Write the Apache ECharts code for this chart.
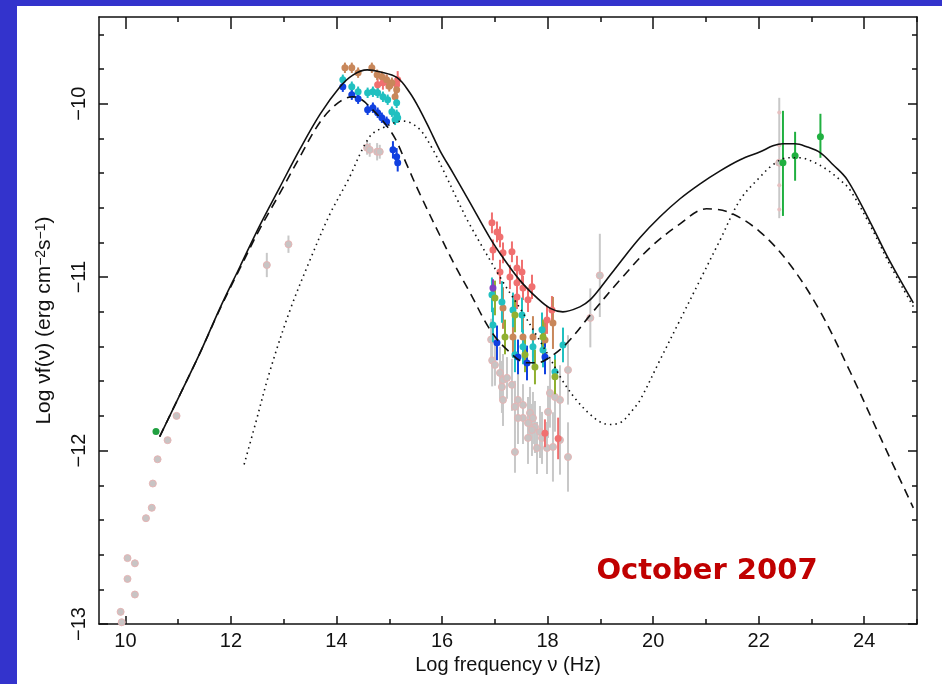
<!DOCTYPE html>
<html><head><meta charset="utf-8">
<script src="https://cdn.jsdelivr.net/npm/echarts@6/dist/echarts.min.js"></script>
<style>html,body{margin:0;padding:0;background:#fff}#c{width:942px;height:684px}</style>
</head><body><div id="c"></div>
<script>
// ---------- axis ticks ----------
const xMajorTicks = [10, 12, 14, 16, 18, 20, 22, 24];
const xMinorTicks = [11, 13, 15, 17, 19, 21, 23, 25];
const yMajorTicks = [-13, -12, -11, -10];
const yMinorTicks = [-12.8, -12.6, -12.4, -12.2, -11.8, -11.6, -11.4, -11.2, -10.8, -10.6, -10.4, -10.2, -9.8, -9.6];

// ---------- model curves [log nu, log nuFnu] ----------
const totalModel = [[10.65,-11.92],[11.03,-11.68],[11.41,-11.44],[11.79,-11.18],[12.17,-10.94],[12.55,-10.70],[12.92,-10.485],[13.30,-10.266],[13.69,-10.06],[14.06,-9.905],[14.31,-9.835],[14.58,-9.805],[14.82,-9.816],[15.15,-9.85],[15.39,-9.937],[15.58,-10.035],[15.77,-10.15],[15.96,-10.27],[16.21,-10.40],[16.53,-10.57],[16.91,-10.775],[17.16,-10.89],[17.48,-11.02],[17.80,-11.12],[18.05,-11.18],[18.29,-11.20],[18.62,-11.17],[18.81,-11.13],[19.00,-11.062],[19.38,-10.912],[19.75,-10.773],[20.13,-10.652],[20.51,-10.548],[20.89,-10.462],[21.27,-10.387],[21.65,-10.323],[22.03,-10.277],[22.27,-10.243],[22.46,-10.231],[22.69,-10.231],[22.91,-10.248],[23.17,-10.283],[23.41,-10.352],[23.68,-10.439],[24.11,-10.681],[24.49,-10.911],[24.93,-11.148]];
const zoneOneModel = [[10.65,-11.92],[11.03,-11.68],[11.41,-11.44],[11.79,-11.185],[12.17,-10.95],[12.55,-10.72],[12.92,-10.52],[13.30,-10.31],[13.69,-10.105],[14.03,-9.995],[14.31,-9.96],[14.48,-9.977],[14.63,-10.018],[14.88,-10.099],[15.11,-10.20],[15.33,-10.35],[15.58,-10.52],[15.96,-10.76],[16.24,-10.93],[16.53,-11.09],[16.91,-11.303],[17.23,-11.418],[17.61,-11.494],[17.80,-11.494],[18.05,-11.46],[18.37,-11.38],[18.81,-11.218],[19.37,-11.017],[19.94,-10.831],[20.51,-10.693],[21.01,-10.606],[21.46,-10.629],[22.03,-10.74],[22.60,-10.93],[23.17,-11.20],[23.74,-11.55],[24.30,-11.92],[24.93,-12.33]];
const zoneTwoModel = [[12.25,-12.08],[12.46,-11.85],[12.74,-11.54],[13.12,-11.19],[13.50,-10.90],[13.87,-10.64],[14.22,-10.44],[14.63,-10.19],[14.92,-10.133],[15.26,-10.10],[15.55,-10.14],[15.80,-10.25],[16.05,-10.40],[16.30,-10.56],[16.53,-10.70],[17.16,-11.03],[17.50,-11.19],[17.80,-11.34],[18.05,-11.47],[18.29,-11.60],[18.55,-11.71],[18.80,-11.79],[19.00,-11.835],[19.18,-11.85],[19.40,-11.835],[19.60,-11.77],[19.75,-11.71],[20.13,-11.478],[20.51,-11.247],[20.89,-11.016],[21.27,-10.785],[21.65,-10.554],[22.03,-10.421],[22.27,-10.352],[22.54,-10.312],[22.79,-10.312],[23.03,-10.335],[23.30,-10.381],[23.54,-10.439],[23.73,-10.497],[24.11,-10.70],[24.49,-10.93],[24.93,-11.17]];

// ---------- data points [x, y, errDown, errUp] ----------
const greyArchive = [[9.91,-12.93,0.02],[9.93,-12.99,0.02],[10.04,-12.62,0],[10.18,-12.65,0.02],[10.04,-12.74,0],[10.18,-12.83,0.02],[10.39,-12.39,0],[10.50,-12.33,0],[10.52,-12.19,0],[10.61,-12.05,0],[10.80,-11.94,0],[10.97,-11.80,0],[12.68,-10.93,0.07],[13.09,-10.81,0.05],
  [14.58,-10.254,0.04],[14.63,-10.266,0.04],[14.77,-10.277,0.05],[14.82,-10.277,0.04],
  [16.93,-11.36,0.12],[16.95,-11.48,0.15],[17.003,-11.506,0.12],[17.098,-11.552,0.15],[17.155,-11.593,0.15],[17.135,-11.633,0.15],[17.231,-11.581,0.12],[17.155,-11.708,0.15],[17.325,-11.621,0.15],[17.439,-11.708,0.15],[17.382,-11.748,0.15],[17.534,-11.737,0.12],[17.534,-11.812,0.15],[17.439,-11.812,0.15],[17.667,-11.783,0.15],[17.723,-11.812,0.15],[17.629,-11.841,0.15],[17.761,-11.864,0.15],[17.705,-11.881,0.15],[17.856,-11.893,0.15],[17.629,-11.927,0.15],[17.382,-12.008,0.12],[17.894,-11.927,0.15],[17.799,-11.985,0.15],[18.008,-11.777,0.15],[18.045,-11.668,0.2],[17.989,-11.985,0.15],[18.235,-11.939,0.2],[18.387,-11.535,0.2],[18.387,-12.037,0.2],[18.235,-11.708,0.2],[18.140,-11.691,0.2],[18.102,-11.979,0.2],
  [18.99,-10.99,0.24],[18.81,-11.235,0.17],
  [22.39,-10.34,0.32,0.374]];
const greyGammaExtra = [[22.39,-10.05,0],[22.39,-10.24,0],[22.39,-10.47,0],[22.39,-10.61,0]];
const radioGreen = [[10.58,-11.89,0]];
const brownPoints = [[14.16,-9.793,0.03],[14.29,-9.793,0.03],[14.41,-9.821,0.03],[14.67,-9.793,0.03],[14.77,-9.833,0.03],[14.86,-9.844,0.03],[14.95,-9.862,0.03],[15.0,-9.90,0.03],[15.05,-9.879,0.03],[15.14,-9.920,0.04],[15.11,-9.960,0.04],
  [17.155,-11.178,0.12],[17.344,-11.345,0.12],[17.534,-11.345,0.12],[17.723,-11.345,0.12],[17.951,-11.362,0.12],[18.102,-11.264,0.15]];
const salmonPoints = [[14.88,-9.879,0.04],[14.95,-9.873,0.04],[15.16,-9.862,0.05],[15.14,-9.891,0.05],[14.78,-9.891,0.04],
  [16.946,-10.687,0.06],[17.041,-10.739,0.06],[17.098,-10.768,0.06],[16.965,-10.843,0.06],[17.155,-10.860,0.06],[17.325,-10.854,0.06],[17.098,-10.970,0.07],[17.287,-10.999,0.07],[17.420,-10.947,0.07],[17.515,-10.970,0.07],[17.420,-11.033,0.07],[17.534,-11.062,0.07],[17.705,-11.056,0.07],[17.420,-11.114,0.07],[17.629,-11.131,0.07],[17.989,-11.247,0.08],[18.083,-11.189,0.08],
  [17.95,-11.90,0.08],[18.20,-11.93,0.12]];
const cyanPoints = [[14.12,-9.862,0.03],[14.29,-9.902,0.03],[14.41,-9.931,0.03],[14.59,-9.937,0.03],[14.69,-9.931,0.03],[14.78,-9.937,0.03],[14.88,-9.960,0.03],[14.97,-9.977,0.03],[15.14,-9.995,0.03],[15.05,-10.046,0.03],[15.14,-10.064,0.03],[15.16,-10.081,0.03],[15.11,-10.093,0.03],
  [16.946,-11.102,0.1],[16.965,-11.276,0.1],[17.135,-11.143,0.12],[17.344,-11.189,0.1],[17.382,-11.448,0.1],[17.515,-11.218,0.1],[17.534,-11.402,0.1],[17.723,-11.402,0.1],[17.894,-11.304,0.1],[17.913,-11.420,0.1],[18.140,-11.546,0.1],[18.292,-11.391,0.1]];
const olivePoints = [[17.003,-11.120,0.1],[17.193,-11.345,0.1],[17.382,-11.218,0.1],[17.572,-11.448,0.1],[17.761,-11.518,0.1],[17.913,-11.345,0.1],[18.140,-11.575,0.1]];
const bluePoints = [[14.12,-9.902,0.03],[14.29,-9.948,0.03],[14.41,-9.971,0.03],[14.59,-10.035,0.03],[14.69,-10.023,0.03],[14.78,-10.052,0.03],[14.86,-10.081,0.03],[14.95,-10.104,0.03],[15.07,-10.266,0.05],[15.14,-10.306,0.05],[15.16,-10.341,0.05],
  [17.041,-11.379,0.1],[17.439,-11.460,0.1],[17.610,-11.495,0.1],[17.951,-11.460,0.1]];
const purplePoints = [[16.965,-11.062,0.05]];
const gammaGreen = [[22.46,-10.341,0.306,0.30],[22.69,-10.300,0.144,0.138],[23.17,-10.19,0.122,0.132]];

function groupSeries(data, color, o) {
  o = o || {};
  const bars = data.filter(d => d[2] > 0).map(d => [d[0], d[1] - d[2], d[1] + (d.length > 3 ? d[3] : d[2])]);
  return [{
    type: 'custom', silent: true, z: o.z || 3, data: bars, encode: {x: 0, y: [1, 2]},
    renderItem: (p, api) => {
      const a = api.coord([api.value(0), api.value(1)]);
      const b = api.coord([api.value(0), api.value(2)]);
      return {type: 'line', shape: {x1: a[0], y1: a[1], x2: b[0], y2: b[1]},
        style: {stroke: o.barColor || color, lineWidth: o.barWidth || 2}};
    }
  }, {
    type: 'scatter', silent: true, z: (o.z || 3) + 1, symbol: 'circle', symbolSize: o.size || 7,
    data: data.map(d => [d[0], d[1]]),
    itemStyle: {color: color, borderColor: o.border || color, borderWidth: o.border ? 1 : 0, opacity: 1}
  }];
}
function curve(data, type) {
  return {type: 'line', data: data, smooth: 0.35, showSymbol: false, silent: true, z: 10,
    lineStyle: {color: '#111', width: 1.6, type: type === 'dashed' ? [9, 6] : type === 'dotted' ? [1.5, 4] : 'solid'}};
}
const minus = v => String(v).replace('-', '\u2212');
const axisCol = '#111';
const baseX = {type: 'value', min: 9.5, max: 25, gridIndex: 0, splitLine: {show: false}};
const baseY = {type: 'value', min: -13, max: -9.5, gridIndex: 0, splitLine: {show: false}};
const lineOn = {show: true, onZero: false, lineStyle: {color: axisCol, width: 1.5}};
const lineOff = {show: false, onZero: false};
const font = 'Liberation Sans';

const option = {
  animation: false,
  backgroundColor: '#fff',
  grid: {left: 99, right: 25, top: 17, bottom: 60, containLabel: false},
  xAxis: [
    Object.assign({}, baseX, {position: 'bottom', axisLine: lineOn,
      axisTick: {inside: true, length: 8, customValues: xMajorTicks, lineStyle: {color: axisCol, width: 1.5}},
      axisLabel: {customValues: xMajorTicks, margin: 7, fontSize: 20, fontFamily: font, color: '#111', formatter: minus},
      name: 'Log frequency \u03bd (Hz)', nameLocation: 'middle', nameGap: 29,
      nameTextStyle: {fontSize: 20, fontFamily: font, color: '#111'}}),
    Object.assign({}, baseX, {position: 'bottom', axisLine: lineOff,
      axisTick: {inside: true, length: 5, customValues: xMinorTicks, lineStyle: {color: axisCol, width: 1.5}},
      axisLabel: {show: false}}),
    Object.assign({}, baseX, {position: 'top', axisLine: lineOn,
      axisTick: {inside: true, length: 12, customValues: xMajorTicks, lineStyle: {color: axisCol, width: 1.5}},
      axisLabel: {show: false}}),
    Object.assign({}, baseX, {position: 'top', axisLine: lineOff,
      axisTick: {inside: true, length: 5, customValues: xMinorTicks, lineStyle: {color: axisCol, width: 1.5}},
      axisLabel: {show: false}})
  ],
  yAxis: [
    Object.assign({}, baseY, {position: 'left', axisLine: lineOn,
      axisTick: {inside: true, length: 9, customValues: yMajorTicks, lineStyle: {color: axisCol, width: 1.5}},
      axisLabel: {customValues: yMajorTicks, rotate: 90, margin: 10, fontSize: 20, fontFamily: font, color: '#111', formatter: minus},
      name: 'Log \u03bdf(\u03bd) (erg cm{s|\u22122}s{s|\u22121})', nameLocation: 'middle', nameGap: 44, nameRotate: 90,
      nameTextStyle: {fontSize: 21, fontFamily: font, color: '#111',
        rich: {s: {fontSize: 14, fontFamily: font, color: '#111', verticalAlign: 'top', lineHeight: 21}}}}),
    Object.assign({}, baseY, {position: 'left', axisLine: lineOff,
      axisTick: {inside: true, length: 5, customValues: yMinorTicks, lineStyle: {color: axisCol, width: 1.5}},
      axisLabel: {show: false}}),
    Object.assign({}, baseY, {position: 'right', axisLine: lineOn,
      axisTick: {inside: true, length: 9, customValues: yMajorTicks, lineStyle: {color: axisCol, width: 1.5}},
      axisLabel: {show: false}}),
    Object.assign({}, baseY, {position: 'right', axisLine: lineOff,
      axisTick: {inside: true, length: 5, customValues: yMinorTicks, lineStyle: {color: axisCol, width: 1.5}},
      axisLabel: {show: false}})
  ],
  graphic: [
    {type: 'rect', left: 0, top: 0, shape: {width: 942, height: 6}, style: {fill: '#3333cc'}, z: 100},
    {type: 'rect', left: 0, top: 0, shape: {width: 17, height: 684}, style: {fill: '#3333cc'}, z: 100},
    {type: 'text', x: 707, y: 571, z: 100,
      style: {text: 'October 2007', fill: '#c00000', font: 'bold 29px "DejaVu Sans"', textAlign: 'center', textVerticalAlign: 'middle'}}
  ],
  series: [].concat(
    groupSeries(greyArchive, '#c8c4c4', {z: 1, border: '#e6b4b4', barColor: '#c8c8c8', size: 7}),
    groupSeries(greyGammaExtra, '#e6c0c0', {z: 1, size: 4}),
    groupSeries(salmonPoints, '#f07070', {z: 3}),
    groupSeries(brownPoints, '#c8875a', {z: 3}),
    groupSeries(cyanPoints, '#20c0c0', {z: 3}),
    groupSeries(olivePoints, '#90b030', {z: 3}),
    groupSeries(bluePoints, '#1040e0', {z: 3}),
    groupSeries(purplePoints, '#8040c0', {z: 3}),
    groupSeries(radioGreen, '#20a040', {z: 3}),
    groupSeries(gammaGreen, '#20b040', {z: 3}),
    [curve(zoneTwoModel, 'dotted'), curve(zoneOneModel, 'dashed'), curve(totalModel, 'solid')]
  )
};
const chart = echarts.init(document.getElementById('c'), null, {renderer: 'canvas'});
chart.setOption(option);
</script></body></html>
